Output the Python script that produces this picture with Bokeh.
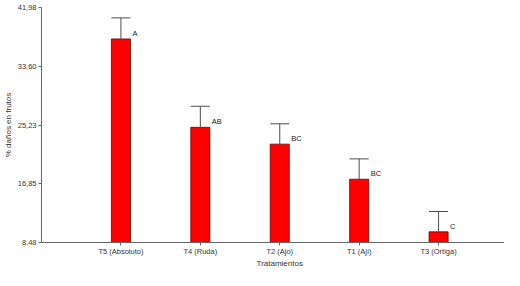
from bokeh.plotting import figure
from bokeh.models import FixedTicker, ColumnDataSource, Range1d, LinearAxis
from bokeh.core.properties import value
from bokeh.embed import file_html
from bokeh.resources import INLINE

categories = ["T5 (Absoluto)", "T4 (Ruda)", "T2 (Ajo)", "T1 (Ají)", "T3 (Ortiga)"]
means = [37.5, 24.9, 22.5, 17.5, 10.0]
upper = [40.5, 27.9, 25.4, 20.4, 12.9]
letters = ["A", "AB", "BC", "BC", "C"]
y_ticks = [8.48, 16.85, 25.23, 33.60, 41.98]
y_tick_labels = ["8,48", "16,85", "25,23", "33,60", "41,98"]
x_title = "Tratamientos"
y_title = "% daños en frutos"

FONT = "Liberation Sans"
W = 0.24
xs = list(range(1, len(categories) + 1))
base = y_ticks[0]

src = ColumnDataSource(dict(
    x=xs, top=means, up=upper, lab=letters,
    x0=[x - W / 2 for x in xs], x1=[x + W / 2 for x in xs],
    xl=[x + W / 2 for x in xs],
))

p = figure(width=504, height=270, output_backend="svg", toolbar_location=None,
           x_range=Range1d(0, 5.83), y_range=Range1d(base, y_ticks[-1]),
           min_border_left=39, min_border_top=7, min_border_right=0, min_border_bottom=0)
p.outline_line_color = None
p.grid.grid_line_color = None
p.background_fill_color = "white"

p.vbar(x="x", top="top", bottom=base, width=W, source=src,
       fill_color="#FF0000", line_color="#6e0000", line_width=0.8)
p.segment(x0="x", y0="top", x1="x", y1="up", source=src, line_color="#4d4d4d", line_width=1)
p.segment(x0="x0", y0="up", x1="x1", y1="up", source=src, line_color="#4d4d4d", line_width=1)
p.text(x="xl", y="top", text="lab", source=src, x_offset=2, y_offset=-1,
       text_font=value(FONT), text_font_size="7.5px", text_color="#222222",
       text_baseline="bottom", text_align="left")

p.xaxis.ticker = FixedTicker(ticks=xs)
p.xaxis.major_label_overrides = {x: c for x, c in zip(xs, categories)}
p.yaxis.ticker = FixedTicker(ticks=y_ticks)
p.yaxis.major_label_overrides = {t: l for t, l in zip(y_ticks, y_tick_labels)}

p.yaxis.axis_label = y_title

for ax in (p.xaxis[0], p.yaxis[0]):
    ax.axis_line_color = "#666666"
    ax.major_tick_line_color = "#666666"
    ax.major_tick_out = 3
    ax.major_tick_in = 0
    ax.minor_tick_line_color = None
    ax.major_label_text_font = FONT
    ax.major_label_text_font_size = "7.5px"
    ax.major_label_text_color = "#333333"
    ax.major_label_standoff = 2
    ax.axis_label_text_font = FONT
    ax.axis_label_text_font_size = "8px"
    ax.axis_label_text_font_style = "normal"
    ax.axis_label_text_color = "#333333"
    ax.axis_label_standoff = 2
p.xaxis[0].major_label_standoff = 1

# x-axis title drawn as a second, line-less axis below the first one
mid = (xs[0] + xs[-1]) / 2
ax2 = LinearAxis(ticker=FixedTicker(ticks=[mid]), major_label_overrides={mid: x_title},
                 axis_line_color=None, major_tick_line_color=None, minor_tick_line_color=None,
                 major_tick_out=0, major_tick_in=0, major_label_standoff=0,
                 major_label_text_font=FONT, major_label_text_font_size="8px",
                 major_label_text_color="#333333")
p.add_layout(ax2, "below")

open("out.html", "w").write(file_html(p, INLINE))
